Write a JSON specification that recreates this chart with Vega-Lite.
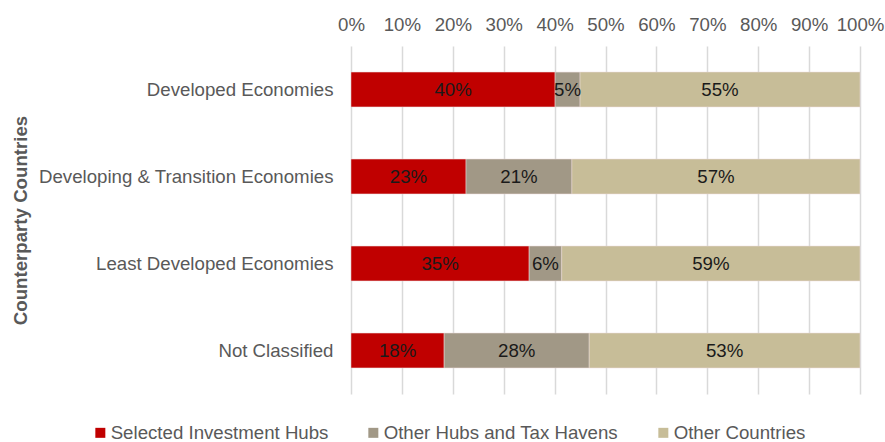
{
  "$schema": "https://vega.github.io/schema/vega-lite/v6.json",
  "autosize": {"type": "none"},
  "width": 509,
  "height": 348,
  "padding": {"left": 351, "top": 46, "right": 25, "bottom": 48},
  "background": "white",
  "config": {
    "font": "Liberation Sans",
    "view": {"stroke": null}
  },
  "data": {
    "values": [
      {"category": "Developed Economies", "series": "Selected Investment Hubs", "order": 1, "value": 40.1},
      {"category": "Developed Economies", "series": "Other Hubs and Tax Havens", "order": 2, "value": 4.9},
      {"category": "Developed Economies", "series": "Other Countries", "order": 3, "value": 55.0},
      {"category": "Developing & Transition Economies", "series": "Selected Investment Hubs", "order": 1, "value": 22.6},
      {"category": "Developing & Transition Economies", "series": "Other Hubs and Tax Havens", "order": 2, "value": 20.8},
      {"category": "Developing & Transition Economies", "series": "Other Countries", "order": 3, "value": 56.6},
      {"category": "Least Developed Economies", "series": "Selected Investment Hubs", "order": 1, "value": 35.0},
      {"category": "Least Developed Economies", "series": "Other Hubs and Tax Havens", "order": 2, "value": 6.4},
      {"category": "Least Developed Economies", "series": "Other Countries", "order": 3, "value": 58.6},
      {"category": "Not Classified", "series": "Selected Investment Hubs", "order": 1, "value": 18.3},
      {"category": "Not Classified", "series": "Other Hubs and Tax Havens", "order": 2, "value": 28.5},
      {"category": "Not Classified", "series": "Other Countries", "order": 3, "value": 53.2}
    ]
  },
  "transform": [
    {"stack": "value", "groupby": ["category"], "sort": [{"field": "order"}], "offset": "normalize", "as": ["x0", "x1"]},
    {"calculate": "(datum.x0 + datum.x1) / 2", "as": "xmid"},
    {"calculate": "datum.x1 - datum.x0", "as": "frac"}
  ],
  "encoding": {
    "y": {
      "field": "category",
      "type": "nominal",
      "sort": ["Developed Economies", "Developing & Transition Economies", "Least Developed Economies", "Not Classified"],
      "scale": {"paddingInner": 0.6, "paddingOuter": 0.3},
      "axis": {
        "title": "Counterparty Countries",
        "titleFontSize": 18.67,
        "titleFontWeight": "bold",
        "titleColor": "#595959",
        "titleX": -331,
        "titleY": 174,
        "titleAngle": 270,
        "titleAlign": "center",
        "titleBaseline": "middle",
        "labelFontSize": 18.67,
        "labelColor": "#595959",
        "labelPadding": 18,
        "ticks": false,
        "domain": false,
        "grid": false,
        "labelLimit": 400
      }
    }
  },
  "layer": [
    {
      "mark": {"type": "bar", "stroke": "#ead8d8", "strokeWidth": 0.5},
      "encoding": {
        "x": {
          "field": "x0",
          "type": "quantitative",
          "scale": {"domain": [0, 1], "nice": false},
          "axis": {
            "orient": "top",
            "format": ".0%",
            "values": [0, 0.1, 0.2, 0.3, 0.4, 0.5, 0.6, 0.7, 0.8, 0.9, 1],
            "labelOverlap": false,
            "labelBound": false,
            "labelFlush": false,
            "title": null,
            "labelFontSize": 18.67,
            "labelColor": "#595959",
            "labelPadding": 12,
            "ticks": false,
            "domain": false,
            "grid": true,
            "gridColor": "#d9d9d9",
            "gridWidth": 1.5
          }
        },
        "x2": {"field": "x1"},
        "color": {
          "field": "series",
          "type": "nominal",
          "sort": ["Selected Investment Hubs", "Other Hubs and Tax Havens", "Other Countries"],
          "scale": {
            "domain": ["Selected Investment Hubs", "Other Hubs and Tax Havens", "Other Countries"],
            "range": ["#C00000", "#A19886", "#C7BD98"]
          },
          "legend": {
            "title": null,
            "orient": "none",
            "direction": "horizontal",
            "legendX": -260,
            "legendY": 377,
            "symbolType": "square",
            "symbolSize": 100,
            "symbolStrokeWidth": 0,
            "labelFontSize": 18.67,
            "labelColor": "#595959",
            "labelOffset": 1,
            "columnPadding": 35,
            "labelLimit": 400
          }
        }
      }
    },
    {
      "mark": {"type": "text", "fontSize": 18.67, "color": "#1a1a1a", "baseline": "middle"},
      "encoding": {
        "x": {"field": "xmid", "type": "quantitative"},
        "text": {"field": "frac", "type": "quantitative", "format": ".0%"}
      }
    }
  ]
}
